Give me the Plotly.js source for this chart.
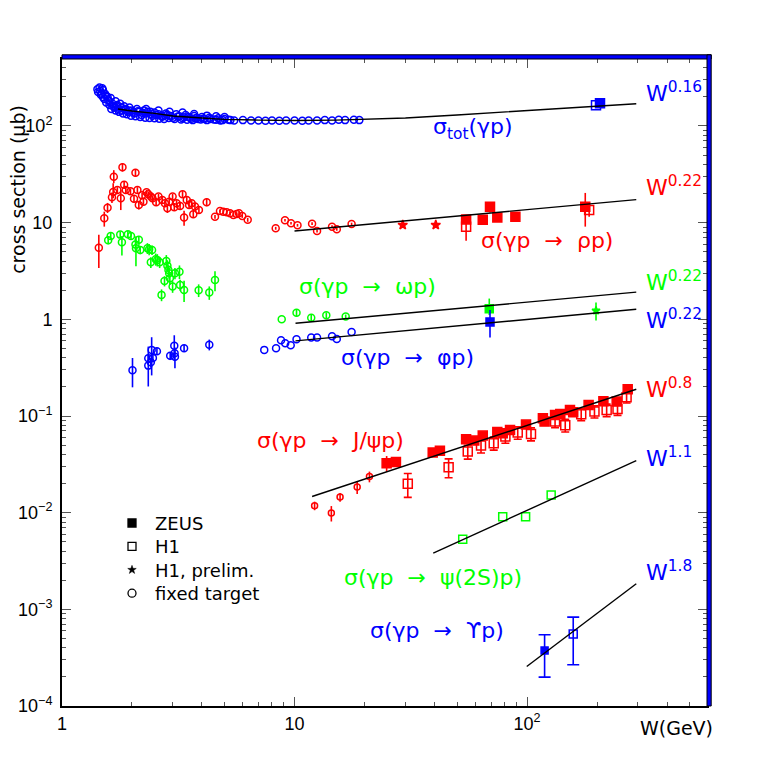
<!DOCTYPE html>
<html>
<head>
<meta charset="utf-8">
<script src="https://cdn.plot.ly/plotly-3.0.1.min.js"></script>
<style>
  body { margin: 0; background: white; }
  #plot { width: 763px; height: 763px; }
</style>
</head>
<body>
<div id="plot"></div>
<script>
// colours used by the original PAW plot
const BLUE = '#0000ff';
const RED = '#ff0000';
const GREEN = '#00ff00';

// ---- total cross section, fixed target
const totW = [1.42,1.43,1.45,1.46,1.48,1.50,1.50,1.52,1.55,1.55,1.58,1.60,1.62,1.65,1.68,1.70,1.72,1.75,1.78,1.80,1.85,1.88,1.92,1.95,2.0,2.05,2.1,2.15,2.2,2.25,2.3,2.4,2.45,2.5,2.6,2.7,2.8,2.9,3.0,3.1,3.2,3.3,3.4,3.5,3.6,3.7,3.8,4.0,4.1,4.3,4.5,4.7,4.9,5.2,5.5,6.0,6.5,7.0,7.5,8.0,8.6,9.2,10,10.8,11.5,12.5,13.5,14.5,15.5,16.5,18,19,
  1.47,1.49,1.53,1.57,1.6,1.63,1.66,1.7,1.73,1.76,1.8,1.83,1.86,1.9,1.94,1.98,2.02,2.07,2.12,2.17,2.22,2.28,2.33,2.38,2.43,2.5,2.55,2.62,2.68,2.75,2.82,2.88,2.95,3.05,3.15,3.25,3.35,3.45,3.55,3.65,3.75,3.85,3.95,4.05,4.2,4.35,4.6,4.8,5.0,5.3,
  2.3,2.6,2.9,3.3,3.7,4.2,4.6,5.0];
const totSig = [240,225,250,230,215,200,235,190,205,175,185,165,195,170,155,180,160,150,170,145,160,150,140,155,145,135,150,140,130,145,135,140,128,138,132,125,135,128,122,132,126,120,130,124,119,127,121,124,118,122,117,120,115,116,114,115,114,114,113,114,113,114,114,113,114,114,115,114,116,115,116,115,
  210,245,215,200,180,150,160,145,165,140,155,135,148,132,145,128,138,126,142,124,136,122,140,121,133,120,130,119,128,118,130,121,126,118,125,117,123,116,122,115,120,118,117,119,115,118,116,114,118,115,
  150,145,140,138,133,128,126,124];
const totH1W = [198], totH1Sig = [164];
const totZeusW = [206], totZeusSig = [172];

// ---- rho
const rhoW = [1.44,1.52,1.57,1.64,1.66,1.67,1.73,1.79,1.82,1.85,1.88,1.97,2.04,2.07,2.11,2.14,2.21,2.24,2.31,2.35,2.41,2.45,2.54,2.60,2.70,2.77,2.84,2.89,2.99,3.04,3.11,3.22,3.30,3.35,3.44,3.52,3.61,3.67,3.73,3.88,4.19,4.55,4.78,4.94,5.11,5.28,5.46,5.64,5.77,5.96,6.29,8.30,9.10,9.66,10.3,11.9,12.5,14.5,15.2,17.6];
const rhoSig = [5.5,11.1,14.3,18.3,20.8,29.9,21.8,17.9,37.4,24.7,21.8,21.1,17.7,32.9,21.8,15.2,19.2,16.5,20.6,19.7,18.6,17.9,16.3,18.6,17.2,15.9,14.1,16.5,18.6,14.4,15.9,14.9,19.7,11.3,17.2,15.2,15.9,12.2,14.7,13.5,16.3,11.5,13.2,13.0,12.8,12.5,12.0,12.3,12.5,11.7,10.7,8.75,10.6,9.86,9.40,9.77,8.21,9.09,8.55,9.70];
const rhoErrUp = [2.0,1.9,1.7,2.2,4.8,5.0,1.5,3.9,4.0,2.0,1.5,1.5,1.5,3.0,1.5,1.5,1.2,1.2,1.2,1.2,1.2,1.2,1.2,1.2,1.2,1.2,1.5,1.2,1.2,1.2,1.2,1.2,1.5,2.0,1.2,1.2,1.2,1.0,1.0,1.0,1.5,0.5,0.5,0.5,0.5,0.5,0.5,0.5,0.5,0.5,0.5,0.3,0.3,0.3,0.3,0.3,0.3,0.3,0.3,0.3];
const rhoErrDn = [2.1,2.0,1.7,2.3,2.9,4.3,1.5,4.4,3.7,2.0,1.5,1.5,1.5,3.0,1.5,1.5,1.2,1.2,1.2,1.2,1.2,1.2,1.2,1.2,1.2,1.2,1.5,1.2,1.2,1.2,1.2,1.2,1.5,2.0,1.2,1.2,1.2,1.0,1.0,1.0,1.5,0.5,0.5,0.5,0.5,0.5,0.5,0.5,0.5,0.5,0.5,0.3,0.3,0.3,0.3,0.3,0.3,0.3,0.3,0.3];
const rhoPrelimW = [29.2,40.5], rhoPrelimSig = [9.47,9.47], rhoPrelimErr = [0.5,0.5];
const rhoZeusW = [54.7,64.5,69.3,74.5,89.1,178];
const rhoZeusSig = [10.8,10.7,14.6,11.3,11.5,14.6];
const rhoZeusErrUp = [0.6,0.6,1.6,0.6,0.6,5.7];
const rhoZeusErrDn = [0.6,0.6,1.9,0.6,0.6,5.5];
const rhoH1W = [54.7,185], rhoH1Sig = [9.09,13.5];
const rhoH1ErrUp = [2.4,1.7], rhoH1ErrDn = [2.6,2.0];

// ---- omega
const omgW = [1.58,1.62,1.78,1.81,1.92,1.98,2.07,2.08,2.14,2.17,2.33,2.37,2.41,2.44,2.53,2.57,2.63,2.68,2.76,2.81,2.84,2.87,2.89,2.91,2.99,3.06,3.20,3.22,3.35,3.87,4.30,4.55,8.81,10.2,11.8,13.7,16.6];
const omgSig = [6.58,7.28,7.52,6.27,7.59,7.28,5.93,5.44,6.67,5.22,5.44,5.31,3.89,5.22,4.19,4.12,3.89,1.79,2.49,4.02,3.59,3.24,3.00,2.66,2.18,3.00,3.11,2.27,2.01,2.00,1.89,2.55,1.00,1.17,1.04,1.10,1.07];
const omgErrUp = [0.6,0.6,0.6,1.0,0.6,0.6,0.8,1.8,0.6,0.5,0.7,0.7,0.5,0.6,0.6,0.6,0.5,0.25,0.3,0.6,0.5,0.4,0.4,0.4,0.3,0.4,0.5,0.3,0.5,0.3,0.3,0.6,0,0.1,0.08,0.08,0.05];
const omgErrDn = [0.6,0.6,0.6,1.7,0.6,0.6,0.8,1.9,0.6,0.5,0.7,0.7,0.5,0.6,0.6,0.6,0.5,0.25,0.3,0.6,0.5,0.4,0.4,0.4,0.3,0.4,0.5,0.3,0.5,0.3,0.3,0.6,0,0.1,0.08,0.08,0.05];
const omgZeusW = [68.8], omgZeusSig = [1.29], omgZeusErrUp = [0.35], omgZeusErrDn = [0.18];
const omgPrelimW = [198], omgPrelimSig = [1.23], omgPrelimErr = [0.26];

// ---- phi
const phiW = [2.01,2.35,2.35,2.41,2.43,2.46,2.56,2.92,3.04,3.05,3.06,3.35,4.30,7.41,8.33,8.75,9.12,9.63,10.2,11.8,12.5,14.5,15.2,17.6];
const phiSig = [0.298,0.332,0.396,0.360,0.483,0.399,0.468,0.419,0.534,0.446,0.411,0.502,0.547,0.483,0.502,0.608,0.566,0.539,0.622,0.647,0.647,0.669,0.627,0.741];
const phiErrUp = [0.10,0.19,0.04,0.04,0.17,0.04,0.04,0.04,0.15,0.04,0.10,0.04,0.07,0,0,0,0,0,0,0,0,0,0,0];
const phiErrDn = [0.10,0.13,0.04,0.04,0.22,0.04,0.04,0.04,0.15,0.04,0.10,0.04,0.07,0,0,0,0,0,0,0,0,0,0,0];
const phiZeusW = [69.3], phiZeusSig = [0.94], phiZeusErrUp = [0.31], phiZeusErrDn = [0.29];

// ---- J/psi
const jpsiFtW = [12.2,14.4,15.7,18.6,21.0];
const jpsiFtSig = [0.0118,0.0099,0.0145,0.0184,0.0236];
const jpsiFtErr = [0.0012,0.0018,0.0015,0.0028,0.003];
const jpsiZeusW = [24.9,27.3,39.3,42.2,54.7,59.3,64.5,74.5,78.6,84.5,99.0,117,119,132,139,153,158,184,213,243,271];
const jpsiZeusSig = [0.0325,0.0335,0.0419,0.0436,0.0575,0.0557,0.0627,0.0685,0.0664,0.0718,0.0815,0.0949,0.0875,0.1026,0.1051,0.1156,0.1094,0.1303,0.1423,0.1409,0.1892];
const jpsiZeusErr = [0.006,0.003,0.003,0.003,0.004,0.004,0.004,0.005,0.005,0.005,0.006,0.007,0.007,0.007,0.007,0.008,0.008,0.009,0.01,0.01,0.013];
const jpsiH1W = [30.7,46.0,55.6,63.4,71.9,80.7,91.2,104,132,146,171,195,220,245,268];
const jpsiH1Sig = [0.0199,0.0295,0.0428,0.0494,0.0524,0.0612,0.0674,0.0653,0.0875,0.0803,0.1045,0.1112,0.1156,0.1184,0.1563];
const jpsiH1Err = [0.0055,0.0065,0.007,0.008,0.008,0.009,0.01,0.01,0.012,0.012,0.015,0.016,0.017,0.017,0.02];

// ---- psi(2S)
const psi2sW = [52.9,78.6,98.6,127];
const psi2sSig = [0.00532,0.00906,0.00906,0.0152];

// ---- Upsilon
const upsZeusW = [119], upsZeusSig = [3.75e-4], upsZeusErrUp = [1.7e-4], upsZeusErrDn = [1.76e-4];
const upsH1W = [158], upsH1Sig = [5.55e-4], upsH1ErrUp = [2.75e-4], upsH1ErrDn = [2.88e-4];

// ---- fit curves
const fitTotW = [1.74,2,2.5,3,4,5,7,10,15,20,30,50,70,100,150,200,295];
const fitTotSig = [150,143,135,127,121,117,115,114,115,117,121,130,137,144,152,159,170];
const fitRhoW = [10,295], fitRhoSig = [8.2,17.3];
const fitOmgW = [10.1,295], fitOmgSig = [0.91,1.91];
const fitPhiW = [10.1,295], fitPhiSig = [0.598,1.27];
const fitJpsiW = [11.9,295], fitJpsiSig = [0.0147,0.189];
const fitPsi2sW = [39.5,295], fitPsi2sSig = [0.00381,0.0346];
const fitUpsW = [99.7,295], fitUpsSig = [2.56e-4,1.84e-3];

const legendNames = ['ZEUS', 'H1', 'H1, prelim.', 'fixed target'];
const legendKinds = ['square', 'square-open', 'star', 'circle-open'];

const xTickVals = [1, 10, 100];
const xTickText = ['1', '10', '10<sup>2</sup>'];
const yTickVals = [1e-4, 1e-3, 1e-2, 1e-1, 1, 10, 100];
const yTickText = ['10<sup>−4</sup>', '10<sup>−3</sup>', '10<sup>−2</sup>', '10<sup>−1</sup>', '1', '10', '10<sup>2</sup>'];

function minorTicks(lo, hi, max) {
  const out = [];
  for (let d = lo; d <= hi; d++) {
    for (let m = 2; m <= 9; m++) {
      const v = m * Math.pow(10, d);
      if (v < max) out.push(v);
    }
  }
  return out;
}

function points(x, y, color, symbol, size, up, dn, cap) {
  const t = {
    x: x, y: y, type: 'scatter', mode: 'markers',
    marker: { symbol: symbol, size: size, color: color, line: { color: color, width: 1.5 } },
    hoverinfo: 'skip'
  };
  if (up) {
    t.error_y = { type: 'data', symmetric: false, array: up, arrayminus: dn || up,
      color: color, thickness: 1.6, width: cap || 0 };
  }
  return t;
}

function fitLine(x, y) {
  return { x: x, y: y, type: 'scatter', mode: 'lines',
    line: { color: 'black', width: 1.4 }, hoverinfo: 'skip' };
}

const data = [
  points(totW, totSig, BLUE, 'circle-open', 7),
  points(totH1W, totH1Sig, BLUE, 'square-open', 9),
  points(totZeusW, totZeusSig, BLUE, 'square', 9),

  points(rhoW, rhoSig, RED, 'circle-open', 7, rhoErrUp, rhoErrDn),
  points(rhoPrelimW, rhoPrelimSig, RED, 'star', 7, rhoPrelimErr),
  points(rhoZeusW, rhoZeusSig, RED, 'square', 9, rhoZeusErrUp, rhoZeusErrDn),
  points(rhoH1W, rhoH1Sig, RED, 'square-open', 9, rhoH1ErrUp, rhoH1ErrDn),

  points(omgW, omgSig, GREEN, 'circle-open', 7, omgErrUp, omgErrDn),
  points(omgZeusW, omgZeusSig, GREEN, 'square', 8, omgZeusErrUp, omgZeusErrDn),
  points(omgPrelimW, omgPrelimSig, GREEN, 'star', 6, omgPrelimErr),

  points(phiW, phiSig, BLUE, 'circle-open', 7, phiErrUp, phiErrDn),
  points(phiZeusW, phiZeusSig, BLUE, 'square', 8, phiZeusErrUp, phiZeusErrDn),

  points(jpsiFtW, jpsiFtSig, RED, 'circle-open', 6, jpsiFtErr),
  points(jpsiZeusW, jpsiZeusSig, RED, 'square', 9, jpsiZeusErr),
  points(jpsiH1W, jpsiH1Sig, RED, 'square-open', 9, jpsiH1Err, jpsiH1Err, 4),

  points(psi2sW, psi2sSig, GREEN, 'square-open', 8),

  points(upsZeusW, upsZeusSig, BLUE, 'square', 7, upsZeusErrUp, upsZeusErrDn, 6),
  points(upsH1W, upsH1Sig, BLUE, 'square-open', 8, upsH1ErrUp, upsH1ErrDn, 6),

  fitLine(fitTotW, fitTotSig),
  fitLine(fitRhoW, fitRhoSig),
  fitLine(fitOmgW, fitOmgSig),
  fitLine(fitPhiW, fitPhiSig),
  fitLine(fitJpsiW, fitJpsiSig),
  fitLine(fitPsi2sW, fitPsi2sSig),
  fitLine(fitUpsW, fitUpsSig)
];

const LABEL_FONT = 'DejaVu Sans, sans-serif';
const TICK_FONT = 'Liberation Sans, Arial, sans-serif';

// plot box in pixels, for placing the key and labels
const PLOT_L = 62, PLOT_T = 59, PLOT_W = 645, PLOT_H = 647;
const px = x => (x - PLOT_L) / PLOT_W;
const py = y => (PLOT_T + PLOT_H - y) / PLOT_H;

function label(text, x, y, color, size, xanchor) {
  return { text: text, xref: 'paper', yref: 'paper', x: x, y: y,
    xanchor: xanchor || 'left', yanchor: 'middle', showarrow: false,
    font: { family: LABEL_FONT, size: size || 22, color: color } };
}

const annotations = [
  label('W<sup>0.16</sup>', 0.902, 0.949, BLUE),
  label('σ<sub>tot</sub>(γp)', 0.637, 0.893, BLUE, 22, 'center'),
  label('W<sup>0.22</sup>', 0.902, 0.804, RED),
  label('σ(γp  →  ρp)', 0.752, 0.720, RED, 22, 'center'),
  label('σ(γp  →  ωp)', 0.474, 0.648, GREEN, 22, 'center'),
  label('W<sup>0.22</sup>', 0.902, 0.657, GREEN),
  label('W<sup>0.22</sup>', 0.902, 0.598, BLUE),
  label('σ(γp  →  φp)', 0.536, 0.539, BLUE, 22, 'center'),
  label('W<sup>0.8</sup>', 0.902, 0.491, RED),
  label('σ(γp  →  J/ψp)', 0.416, 0.411, RED, 22, 'center'),
  label('W<sup>1.1</sup>', 0.902, 0.385, BLUE),
  label('σ(γp  →  ψ(2S)p)', 0.575, 0.199, GREEN, 22, 'center'),
  label('W<sup>1.8</sup>', 0.902, 0.209, BLUE),
  label('σ(γp  →  ϒp)', 0.581, 0.117, BLUE, 22, 'center'),

  // axis titles
  { text: 'cross section (μb)', xref: 'paper', yref: 'paper', x: -0.068, y: 0.798,
    textangle: -90, xanchor: 'center', yanchor: 'middle', showarrow: false,
    font: { family: LABEL_FONT, size: 19, color: 'black' } },
  { text: 'W(GeV)', xref: 'paper', yref: 'paper', x: 0.952, y: -0.034,
    xanchor: 'center', yanchor: 'middle', showarrow: false,
    font: { family: LABEL_FONT, size: 19, color: 'black' } }
];

// key: one text block, symbols drawn as shapes next to each line
const KEY_FONT = 18, KEY_ROW = KEY_FONT * 1.3, KEY_TOP = 523, KEY_SYM_X = 132, KEY_TEXT_X = 153;
annotations.push({
  text: legendNames.join('<br>'), xref: 'paper', yref: 'paper',
  x: px(KEY_TEXT_X), y: py(KEY_TOP + 1.5 * KEY_ROW), xanchor: 'left', yanchor: 'middle',
  align: 'left', showarrow: false,
  font: { family: LABEL_FONT, size: KEY_FONT, color: 'black' }
});

const shapes = [
  { type: 'rect', xref: 'paper', yref: 'paper', x0: 0, x1: 1.0065, y0: 1, y1: 1.0065,
    fillcolor: BLUE, line: { color: 'black', width: 1 }, layer: 'above' },
  { type: 'rect', xref: 'paper', yref: 'paper', x0: 1, x1: 1.0065, y0: 0, y1: 1.0065,
    fillcolor: BLUE, line: { color: 'black', width: 1 }, layer: 'above' }
];

legendKinds.forEach((kind, i) => {
  const cy = KEY_TOP + i * KEY_ROW;
  const r = 4;
  if (kind === 'star') {
    let d = '';
    for (let k = 0; k < 10; k++) {
      const a = -Math.PI / 2 + k * Math.PI / 5;
      const rr = k % 2 === 0 ? 4.5 : 1.8;
      const X = px(KEY_SYM_X + rr * Math.cos(a));
      const Y = py(cy + rr * Math.sin(a));
      d += (k === 0 ? 'M' : 'L') + X + ',' + Y;
    }
    shapes.push({ type: 'path', xref: 'paper', yref: 'paper', path: d + 'Z',
      fillcolor: 'black', line: { color: 'black', width: 0.5 } });
  } else {
    shapes.push({
      type: kind === 'circle-open' ? 'circle' : 'rect', xref: 'paper', yref: 'paper',
      x0: px(KEY_SYM_X - r), x1: px(KEY_SYM_X + r), y0: py(cy + r), y1: py(cy - r),
      fillcolor: kind === 'square' ? 'black' : 'rgba(0,0,0,0)',
      line: { color: 'black', width: 1.3 }
    });
  }
});

const axisCommon = {
  type: 'log',
  tickmode: 'array',
  ticks: 'inside',
  ticklen: 9,
  tickwidth: 1,
  tickcolor: '#555',
  showline: true,
  linewidth: 2,
  linecolor: 'black',
  mirror: 'allticks',
  showgrid: false,
  zeroline: false,
  tickfont: { family: TICK_FONT, size: 18, color: 'black' }
};

const layout = {
  width: 763,
  height: 763,
  margin: { l: 62, r: 56, t: 59, b: 57 },
  paper_bgcolor: 'white',
  plot_bgcolor: 'white',
  showlegend: false,
  xaxis: Object.assign({}, axisCommon, {
    range: [0, 2.774],
    tickvals: xTickVals,
    ticktext: xTickText,
    minor: { tickmode: 'array', tickvals: minorTicks(0, 2, 590), ticks: 'inside', ticklen: 4, tickcolor: '#555', showgrid: false }
  }),
  yaxis: Object.assign({}, axisCommon, {
    range: [-4, 2.693],
    tickvals: yTickVals,
    ticktext: yTickText,
    ticklabelstandoff: 4,
    minor: { tickmode: 'array', tickvals: minorTicks(-4, 2, 490), ticks: 'inside', ticklen: 4, tickcolor: '#555', showgrid: false }
  }),
  annotations: annotations,
  shapes: shapes
};

Plotly.newPlot('plot', data, layout, { displayModeBar: false, staticPlot: true });
</script>
</body>
</html>
